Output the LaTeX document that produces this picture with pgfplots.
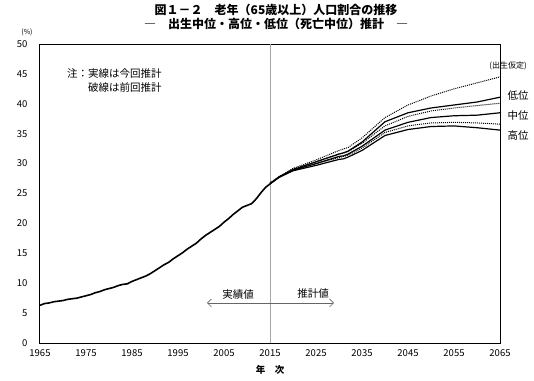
\documentclass[border=0pt]{standalone}
\usepackage{fontspec}
\setmainfont{Noto Sans CJK JP}
\usepackage{pgfplots}
\pgfplotsset{compat=1.18}
\usetikzlibrary{arrows.meta}
\begin{document}
\begin{tikzpicture}[x=1pt,y=1pt]
\useasboundingbox (0,0) rectangle (534,380);
\begin{axis}[
  at={(40pt,37pt)}, anchor=south west,
  scale only axis, width=460pt, height=299pt,
  xmin=1965, xmax=2065, ymin=0, ymax=50,
  xtick={1965,1975,...,2065}, ytick={0,5,...,50},
  major tick length=0pt,
  axis line style={line width=1pt},
  /pgf/number format/assume math mode=true,
  x tick label style={/pgf/number format/1000 sep={}, font=\fontsize{9.5}{10}\selectfont, yshift=-3pt},
  y tick label style={font=\fontsize{9.5}{10}\selectfont, xshift=-9pt},
  clip=false,
]
\draw[gray!70, line width=0.8pt] (axis cs:2015,0) -- (axis cs:2015,50);
% history
\addplot[black, line width=1.6pt] coordinates {
(1965,6.3)(1966,6.6)(1967,6.7)(1968,6.9)(1969,7.0)(1970,7.1)(1971,7.3)(1972,7.4)(1973,7.5)(1974,7.7)
(1975,7.9)(1976,8.1)(1977,8.4)(1978,8.6)(1979,8.9)(1980,9.1)(1981,9.3)(1982,9.6)(1983,9.8)(1984,9.9)
(1985,10.3)(1986,10.6)(1987,10.9)(1988,11.2)(1989,11.6)(1990,12.1)(1991,12.6)(1992,13.1)(1993,13.5)(1994,14.1)
(1995,14.6)(1996,15.1)(1997,15.7)(1998,16.2)(1999,16.7)(2000,17.4)(2001,18.0)(2002,18.5)(2003,19.0)(2004,19.5)
(2005,20.2)(2006,20.8)(2007,21.5)(2008,22.1)(2009,22.7)(2010,23.0)(2011,23.3)(2012,24.1)(2013,25.1)(2014,26.0)(2015,26.6)};
% previous projections (dotted)
\addplot[black, line width=1pt, dash pattern=on 1pt off 1pt] coordinates {
(2015,26.8)(2020,29.2)(2025,30.6)(2030,32.2)(2032,32.7)(2035,34.3)(2040,37.7)(2045,39.8)(2050,41.3)(2055,42.5)(2060,43.5)(2065,44.5)};
\addplot[black, line width=1pt, dash pattern=on 1pt off 1pt] coordinates {
(2015,26.8)(2020,29.1)(2025,30.3)(2030,31.6)(2032,32.0)(2035,33.4)(2040,36.3)(2045,37.9)(2050,38.8)(2055,39.3)(2060,39.7)(2065,40.1)};
\addplot[black, line width=1pt, dash pattern=on 1pt off 1pt] coordinates {
(2015,26.8)(2020,29.0)(2025,30.0)(2030,31.0)(2032,31.4)(2035,32.6)(2040,35.2)(2045,36.3)(2050,36.8)(2055,36.9)(2060,36.8)(2065,36.6)};
% current projections (solid)
\addplot[black, line width=1.2pt] coordinates {
(2015,26.6)(2017,27.8)(2020,29.0)(2025,30.3)(2030,31.6)(2031,31.8)(2032,32.1)(2035,33.6)(2040,37.0)(2045,38.5)(2050,39.3)(2055,39.8)(2060,40.3)(2065,41.1)};
\addplot[black, line width=1.2pt] coordinates {
(2015,26.6)(2017,27.8)(2020,28.9)(2025,30.0)(2030,31.2)(2031,31.3)(2032,31.6)(2035,32.9)(2040,35.6)(2045,36.9)(2050,37.7)(2055,38.0)(2060,38.1)(2065,38.5)};
\addplot[black, line width=1.2pt] coordinates {
(2015,26.6)(2017,27.7)(2020,28.8)(2025,29.7)(2030,30.7)(2031,30.8)(2032,31.1)(2035,32.2)(2040,34.7)(2045,35.7)(2050,36.2)(2055,36.3)(2060,36.0)(2065,35.6)};
% arrow
\draw[gray!80!black, line width=0.6pt, {Straight Barb[length=4pt,width=8pt]}-{Straight Barb[length=4pt,width=8pt]}] (axis cs:2001.3,6.7) -- (axis cs:2028.9,6.7);
\end{axis}
\node[font=\fontsize{12}{13}\selectfont\bfseries] at (276,370) {図１－２　老年（65歳以上）人口割合の推移};
\node[font=\fontsize{12}{13}\selectfont\bfseries] at (276,356) {―　出生中位・高位・低位（死亡中位）推計　―};
\node[font=\fontsize{7}{8}\selectfont] at (27,348) {(\%)};
\node[anchor=west, font=\fontsize{10.5}{11}\selectfont, inner sep=0pt] at (67,306) {注：実線は今回推計};
\node[anchor=west, font=\fontsize{10.5}{11}\selectfont, inner sep=0pt] at (88,293) {破線は前回推計};
\node[font=\fontsize{8}{9}\selectfont, inner sep=0pt] at (508,314) {(出生仮定)};
\node[font=\fontsize{10.5}{11}\selectfont, inner sep=0pt] at (518,284) {低位};
\node[font=\fontsize{10.5}{11}\selectfont, inner sep=0pt] at (518,264) {中位};
\node[font=\fontsize{10.5}{11}\selectfont, inner sep=0pt] at (518,244) {高位};
\node[font=\fontsize{9.5}{10}\selectfont\bfseries, inner sep=0pt] at (270,10) {年　次};
\node[font=\fontsize{10.5}{11}\selectfont, inner sep=0pt] at (238,85) {実績値};
\node[font=\fontsize{10.5}{11}\selectfont, inner sep=0pt] at (313,87) {推計値};
\end{tikzpicture}
\end{document}
